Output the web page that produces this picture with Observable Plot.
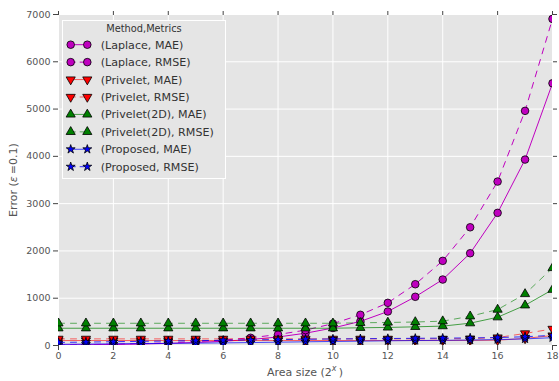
<!DOCTYPE html>
<html><head><meta charset="utf-8">
<script src="https://cdn.jsdelivr.net/npm/d3@7"></script>
<script src="https://cdn.jsdelivr.net/npm/@observablehq/plot@0.6"></script>
<style>body{margin:0;background:#fff} svg{display:block}</style>
</head><body><div id="chart"></div>
<script>
const areaSizes = [0,1,2,3,4,5,6,7,8,9,10,11,12,13,14,15,16,17,18];
const laplaceMAE = [11,16,22,32,45,64,90,127,180,260,370,510,719,1030,1395,1951,2805,3932,5545];
const laplaceRMSE = [14,20,29,40,57,81,115,163,232,325,462,649,902,1296,1790,2500,3467,4962,6907];
const priveletMAE = [105,105,105,105,105,105,105,105,105,105,105,105,105,105,105,108,112,150,210];
const priveletRMSE = [140,140,140,140,140,140,140,140,140,140,140,140,140,140,140,145,168,255,350];
const privelet2dMAE = [365,365,365,365,365,365,365,365,365,365,365,375,382,395,410,472,598,850,1180];
const privelet2dRMSE = [470,470,470,470,470,470,470,470,470,470,470,480,487,497,515,618,760,1090,1640];
const proposedMAE = [25,30,35,40,45,50,55,62,70,78,85,92,100,105,110,115,125,140,165];
const proposedRMSE = [65,72,80,88,95,102,110,118,125,132,138,143,148,152,156,160,168,185,215];
const xTicks = [0,2,4,6,8,10,12,14,16,18];
const yTicks = [0,1000,2000,3000,4000,5000,6000,7000];
const seriesLabels = ["(Laplace, MAE)","(Laplace, RMSE)","(Privelet, MAE)","(Privelet, RMSE)","(Privelet(2D), MAE)","(Privelet(2D), RMSE)","(Proposed, MAE)","(Proposed, RMSE)"];
const seriesValues = [laplaceMAE,laplaceRMSE,priveletMAE,priveletRMSE,privelet2dMAE,privelet2dRMSE,proposedMAE,proposedRMSE];

const styles = [
  {line:"#bf00bf", fill:"#bf00bf", dash:null, symbol:"circle", rotate:0, op:1},
  {line:"#bf00bf", fill:"#bf00bf", dash:"6,6", symbol:"circle", rotate:0, op:1},
  {line:"#ff0000", fill:"#ff0000", dash:null, symbol:"triangle", rotate:180, op:0.6},
  {line:"#ff0000", fill:"#ff0000", dash:"6,6", symbol:"triangle", rotate:180, op:0.6},
  {line:"#008000", fill:"#008000", dash:null, symbol:"triangle", rotate:0, op:0.7},
  {line:"#008000", fill:"#008000", dash:"6,6", symbol:"triangle", rotate:0, op:0.6},
  {line:"#0000ff", fill:"#0000ff", dash:null, symbol:"star", rotate:0, op:0.7},
  {line:"#0000ff", fill:"#0000ff", dash:"6,6", symbol:"star", rotate:0, op:0.8}
];
const symR = {circle:3.8, triangle:3.4, star:2.8};

const rows = seriesValues.flatMap((vals, i) => areaSizes.map((x, j) => ({x, y: vals[j], s: i})));

const marks = [
  Plot.frame({fill:"#e5e5e5", stroke:null}),
  Plot.gridX(xTicks, {stroke:"#fff", strokeOpacity:1, strokeWidth:1}),
  Plot.gridY(yTicks, {stroke:"#fff", strokeOpacity:1, strokeWidth:1})
];
styles.forEach((st, i) => {
  const data = rows.filter(d => d.s === i);
  marks.push(Plot.line(data, {x:"x", y:"y", stroke:st.line, strokeWidth:1, strokeOpacity:st.op, strokeDasharray:st.dash, clip:true}));
  marks.push(Plot.dot(data, {x:"x", y:"y", symbol:st.symbol, r:symR[st.symbol], fill:st.fill, stroke:"#000", strokeWidth:0.8, rotate:st.rotate, clip:true}));
});
marks.push(
  Plot.axisX(xTicks, {anchor:"bottom", tickSize:5, tickPadding:2, fontSize:9.5, stroke:"#444", color:"#555", label:null, tickFormat:d3.format("d")}),
  Plot.axisX(xTicks, {anchor:"top", tickSize:4, stroke:"#444", label:null, tickFormat:() => ""}),
  Plot.axisY(yTicks, {anchor:"left", tickSize:5, tickPadding:3, fontSize:9.5, stroke:"#444", color:"#555", label:null, tickFormat:d3.format("d")}),
  Plot.axisY(yTicks, {anchor:"right", tickSize:4, stroke:"#444", label:null, tickFormat:() => ""})
);

const chart = Plot.plot({
  width: 559, height: 381,
  marginLeft: 58, marginRight: 7, marginTop: 14, marginBottom: 36,
  style: {fontFamily: "DejaVu Sans", background: "#fff", overflow: "visible"},
  x: {domain: [0, 18]},
  y: {domain: [0, 7000]},
  symbol: {type: "identity"},
  marks
});
document.getElementById("chart").append(chart);

const svg = d3.select(chart);
// axis labels
const xl = svg.append("text").attr("x", 305).attr("y", 376).attr("text-anchor", "middle")
  .attr("font-size", 11).attr("fill", "#555").attr("font-family", "DejaVu Sans");
xl.append("tspan").text("Area size (2");
xl.append("tspan").attr("font-size", 8).attr("font-style", "italic").attr("dy", -5).text("x");
xl.append("tspan").attr("dy", 5).text("\u2009)");

const yl = svg.append("text").attr("transform", "translate(17,180) rotate(-90)").attr("text-anchor", "middle")
  .attr("font-size", 11).attr("fill", "#555").attr("font-family", "DejaVu Sans");
yl.append("tspan").text("Error (");
yl.append("tspan").attr("font-style", "italic").text("\u03B5");
yl.append("tspan").text("\u2009=0.1)");

// legend
const lg = svg.append("g").attr("font-family", "DejaVu Sans").attr("text-anchor", "start");
lg.append("rect").attr("x", 62.5).attr("y", 20.5).attr("width", 163).attr("height", 158)
  .attr("fill", "#e5e5e5").attr("stroke", "#fff").attr("stroke-width", 1);
lg.append("text").attr("x", 144).attr("y", 31.5).attr("text-anchor", "middle")
  .attr("font-size", 9.8).attr("fill", "#333").text("Method,Metrics");
seriesLabels.forEach((lab, i) => {
  const st = styles[i];
  const cy = 44.7 + i * 17.43;
  lg.append("line").attr("x1", 70.7).attr("x2", 87.3).attr("y1", cy).attr("y2", cy)
    .attr("stroke", st.line).attr("stroke-opacity", st.op).attr("stroke-width", 1)
    .attr("stroke-dasharray", st.dash ? "5,4" : null);
  const sym = st.symbol === "circle" ? d3.symbolCircle : st.symbol === "star" ? d3.symbolStar : d3.symbolTriangle;
  const r = symR[st.symbol];
  const path = d3.symbol(sym, Math.PI * r * r)();
  [70.7, 87.3].forEach(mx => {
    lg.append("path").attr("d", path)
      .attr("transform", `translate(${mx},${cy}) rotate(${st.rotate})`)
      .attr("fill", st.fill).attr("stroke", "#000").attr("stroke-width", 0.8);
  });
  lg.append("text").attr("x", 100.7).attr("y", cy).attr("dy", "0.36em").attr("text-anchor", "start")
    .attr("font-size", 11.1).attr("fill", "#333").text(lab);
});
</script>
</body></html>
